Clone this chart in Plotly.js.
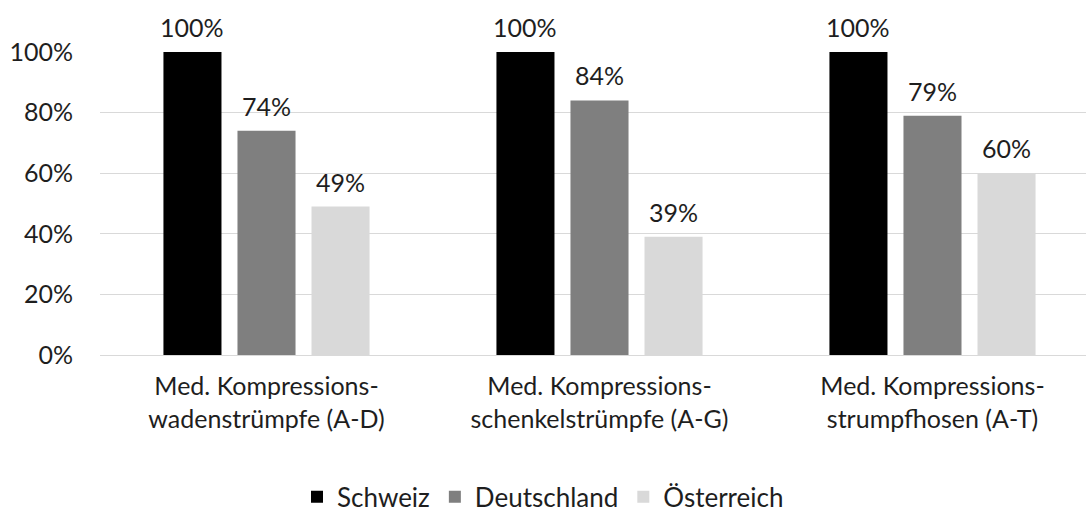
<!DOCTYPE html>
<html>
<head>
<meta charset="utf-8">
<script src="https://cdn.plot.ly/plotly-3.0.1.min.js"></script>
<style>html,body{margin:0;padding:0;background:#fff;}#chart{width:1086px;height:524px;}</style>
</head>
<body>
<div id="chart"></div>
<script>
const categories = [
  "Med. Kompressions-<br>wadenstrümpfe (A-D)",
  "Med. Kompressions-<br>schenkelstrümpfe (A-G)",
  "Med. Kompressions-<br>strumpfhosen (A-T)"
];
const seriesNames = ["Schweiz", "Deutschland", "Österreich"];
const schweiz = [1.00, 1.00, 1.00];
const deutschland = [0.74, 0.84, 0.79];
const oesterreich = [0.49, 0.39, 0.60];
const seriesValues = [schweiz, deutschland, oesterreich];
const seriesColors = ["#000000", "#7f7f7f", "#d9d9d9"];
const yTicks = [0, 0.2, 0.4, 0.6, 0.8, 1.0];
const yTickLabels = ["0%", "20%", "40%", "60%", "80%", "100%"];

const FONT = "Lato, 'Open Sans', sans-serif";
const TXT = "#1e1e1e";
const W = 1086, H = 524;
const mL = 100, mR = 0, mT = 52, mB = 169;
const xMin = -0.5, xMax = 2.461;
const bargap = 0.333, bargroupgap = 0.216;

const traces = seriesNames.map((name, i) => ({
  type: "bar",
  name: name,
  x: categories,
  y: seriesValues[i],
  marker: {color: seriesColors[i], line: {width: 0}},
  hoverinfo: "skip"
}));

// data labels as annotations positioned via axis scales
const plotW = W - mL - mR;
const catPx = plotW / (xMax - xMin);
const slotPx = catPx * (1 - bargap) / seriesNames.length;
const annotations = [];
seriesValues.forEach((vals, si) => {
  vals.forEach((v, ci) => {
    annotations.push({
      x: categories[ci], y: v, xref: "x", yref: "y",
      text: Math.round(v * 100) + "%",
      showarrow: false,
      xanchor: "center", yanchor: "bottom",
      xshift: (si - (seriesNames.length - 1) / 2) * slotPx,
      yshift: 8,
      font: {family: FONT, size: 25, color: TXT}
    });
  });
});

const layout = {
  width: W, height: H,
  margin: {l: mL, r: mR, t: mT, b: mB, pad: 0},
  paper_bgcolor: "#fff", plot_bgcolor: "#fff",
  font: {family: FONT, size: 25, color: TXT},
  barmode: "group",
  bargap: bargap,
  bargroupgap: bargroupgap,
  showlegend: true,
  legend: {
    orientation: "h",
    xref: "container", yref: "container",
    x: 0.5, xanchor: "center",
    y: 0.052, yanchor: "middle",
    font: {family: FONT, size: 26, color: TXT},
    itemclick: false, itemdoubleclick: false,
    traceorder: "normal"
  },
  xaxis: {
    type: "category",
    range: [xMin, xMax],
    showgrid: false,
    showline: false,
    zeroline: false,
    ticks: "",
    ticklabelstandoff: 14,
    tickfont: {family: FONT, size: 25, color: TXT},
    fixedrange: true
  },
  yaxis: {
    range: [0, 1],
    tickvals: yTicks,
    ticktext: yTickLabels,
    showgrid: true,
    gridcolor: "#d9d9d9",
    gridwidth: 1,
    zeroline: true,
    zerolinecolor: "#d9d9d9",
    zerolinewidth: 1,
    showline: false,
    ticks: "",
    ticklabelstandoff: 26,
    tickfont: {family: FONT, size: 25, color: TXT},
    fixedrange: true
  },
  annotations: annotations
};

Plotly.newPlot("chart", traces, layout, {displayModeBar: false, staticPlot: true});
</script>
</body>
</html>
